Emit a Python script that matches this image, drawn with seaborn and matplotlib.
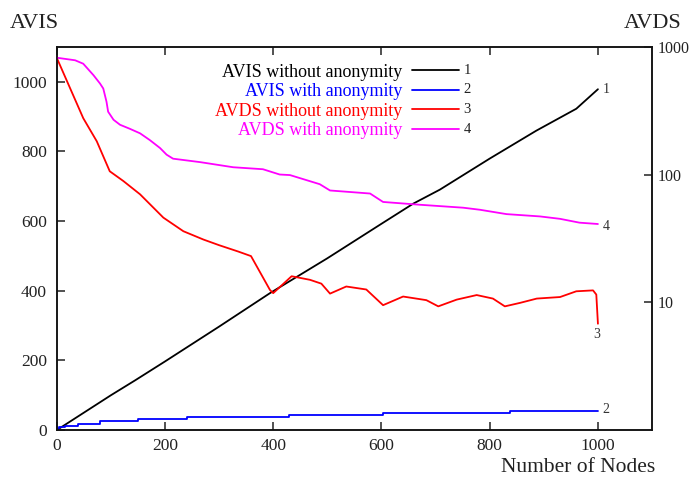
import matplotlib
matplotlib.use("Agg")
import matplotlib.pyplot as plt
import seaborn as sns
from matplotlib.lines import Line2D
from matplotlib.ticker import NullLocator

# --- data -------------------------------------------------------------
# AVIS without anonymity (left axis)
avis_plain_x = [0, 50, 100, 145, 200, 300, 394, 500, 600, 659, 708, 800, 886, 960, 1000]
avis_plain_y = [0, 50, 100, 143, 197, 297, 393, 493, 592, 650, 690, 779, 859, 922, 978]

# AVIS with anonymity (left axis, stepwise)
avis_anon_x = [0, 5, 15, 40, 80, 150, 240, 430, 603, 837, 1000]
avis_anon_y = [0, 8, 11, 17, 25, 32, 38, 44, 49, 55, 55]

# AVDS without anonymity (right log axis)
avds_plain_x = [0, 49, 74, 98, 123, 154, 197, 234, 271, 300, 335, 359, 394, 400,
                434, 468, 489, 505, 535, 572, 603, 640, 683, 705, 739, 776, 806,
                828, 856, 887, 930, 960, 991, 997, 1000]
avds_plain_y = [820, 276, 182, 106, 89, 70, 46, 36, 31, 28, 25, 23, 12.5, 11.8,
                16, 15, 14, 11.7, 13.3, 12.6, 9.5, 11.1, 10.4, 9.3, 10.5, 11.4, 10.7,
                9.3, 9.9, 10.7, 11.0, 12.2, 12.4, 11.5, 6.8]

# AVDS with anonymity (right log axis)
avds_anon_x = [0, 34, 49, 68, 80, 86, 92, 95, 105, 117, 135, 154, 172, 191, 203, 215,
               265, 326, 381, 412, 431, 486, 505, 579, 603, 671, 751, 782, 831, 893,
               930, 966, 1000]
avds_anon_y = [820, 783, 736, 598, 515, 471, 371, 310, 268, 245, 228, 210, 186, 161, 143,
               133, 125, 114, 110, 100, 99, 84, 75, 71, 61, 58, 55, 53, 49, 47, 45, 42, 41]

series_names = ["AVIS without anonymity", "AVIS with anonymity",
                "AVDS without anonymity", "AVDS with anonymity"]
series_colors = ["#000000", "#0000ff", "#ff0000", "#ff00ff"]
series_tags = ["1", "2", "3", "4"]

x_ticks = [0, 200, 400, 600, 800, 1000]
left_ticks = [0, 200, 400, 600, 800, 1000]
right_ticks = [10, 100, 1000]

# --- style ------------------------------------------------------------
sns.set_theme(style="ticks")
plt.rcParams["font.family"] = ["Liberation Serif", "DejaVu Serif"]
plt.rcParams["axes.linewidth"] = 1.1

fig = plt.figure(figsize=(6.9, 4.79), dpi=100)
ax = fig.add_axes([0.0822, 0.102, 0.8628, 0.8005])
ax2 = ax.twinx()

lw = 1.3
sns.lineplot(x=avis_plain_x, y=avis_plain_y, ax=ax, color=series_colors[0], lw=lw)
sns.lineplot(x=avis_anon_x, y=avis_anon_y, ax=ax, color=series_colors[1], lw=lw,
             drawstyle="steps-post")
sns.lineplot(x=avds_plain_x, y=avds_plain_y, ax=ax2, color=series_colors[2], lw=lw)
sns.lineplot(x=avds_anon_x, y=avds_anon_y, ax=ax2, color=series_colors[3], lw=lw)

# left / bottom axes
ax.set_xlim(0, 1100)
ax.set_ylim(0, 1100)
ax.set_xticks(x_ticks)
ax.set_yticks(left_ticks)
ax.tick_params(axis="both", direction="in", length=6, width=1.1, labelsize=12.5,
               colors="#222222")
ax.tick_params(axis="x", top=True, pad=6)
ax.tick_params(axis="y", pad=7)
ax.set_xlabel("")
ax.set_ylabel("")

# right log axis
ax2.set_yscale("log")
ax2.set_ylim(1, 1000)
ax2.set_yticks(right_ticks)
ax2.set_yticklabels([str(v) for v in right_ticks])
ax2.yaxis.set_minor_locator(NullLocator())
ax2.tick_params(axis="y", direction="in", length=6, width=1.1, labelsize=11.5,
                colors="#222222", pad=4)
ax2.set_ylabel("")
for a in (ax, ax2):
    for s in a.spines.values():
        s.set_visible(True)
        s.set_color("#111111")

# line end tags
ax.text(avis_plain_x[-1] + 8, avis_plain_y[-1], series_tags[0], fontsize=10,
        color="#333333", va="center")
ax.text(avis_anon_x[-1] + 8, avis_anon_y[-1] + 5, series_tags[1], fontsize=10,
        color="#333333", va="center")
ax2.text(avds_plain_x[-1] - 8, avds_plain_y[-1] * 0.82, series_tags[2], fontsize=10,
         color="#333333", va="center")
ax2.text(avds_anon_x[-1] + 8, avds_anon_y[-1] * 0.96, series_tags[3], fontsize=10,
         color="#333333", va="center")

# legend: coloured labels, line sample after the text, number tag after that
handles = [Line2D([], [], color=c, lw=lw) for c in series_colors]
leg = ax.legend(handles, series_names, loc="upper right", bbox_to_anchor=(0.676, 0.956),
                frameon=False, markerfirst=False, handlelength=2.6, handletextpad=0.55,
                labelspacing=0.14, fontsize=13, labelcolor=series_colors,
                borderaxespad=0, borderpad=0)
tag_rows = [0.939, 0.889, 0.837, 0.785]
for tag, yy in zip(series_tags, tag_rows):
    ax.text(0.683, yy, tag, transform=ax.transAxes, fontsize=10.5, color="#222222",
            va="center", ha="left")

# axis titles
fig.text(10 / 690, 1 - 23 / 479, "AVIS", fontsize=16, color="#222222", va="center")
fig.text(624 / 690, 1 - 23 / 479, "AVDS", fontsize=16, color="#222222", va="center")
fig.text(655 / 690, 1 - 468 / 479, "Number of Nodes", fontsize=15.5, color="#222222",
         va="center", ha="right")

fig.savefig("out.png", dpi=100)
